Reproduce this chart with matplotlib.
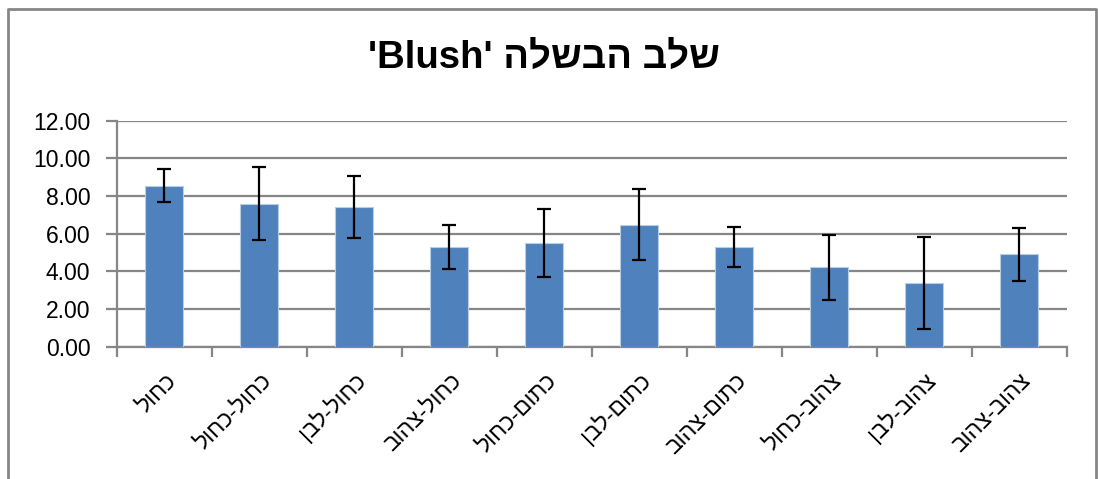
import matplotlib
matplotlib.use("Agg")
import matplotlib.pyplot as plt
from matplotlib.lines import Line2D

# data
categories = ['כחול', 'כחול-כחול', 'כחול-לבן', 'כחול-צהוב', 'כתום-כחול',
              'כתום-לבן', 'כתום-צהוב', 'צהוב-כחול', 'צהוב-לבן', 'צהוב-צהוב']
means = [8.55, 7.60, 7.42, 5.30, 5.50, 6.47, 5.30, 4.22, 3.38, 4.90]
errors = [0.86, 1.93, 1.63, 1.16, 1.82, 1.89, 1.08, 1.72, 2.42, 1.40]
yticks = [0, 2, 4, 6, 8, 10, 12]
title_he = 'שלב הבשלה'
title_en = "'Blush'"

FONTS = ['Liberation Sans', 'DejaVu Sans']
GRID = '#868686'
BAR = '#4F81BD'


def visual(s):
    # matplotlib has no bidi support, so lay Hebrew out in visual order
    return s[::-1]


def main():
    plt.rcParams['font.family'] = FONTS
    fig = plt.figure(figsize=(10.98, 4.79), dpi=100)
    ax = fig.add_axes([0.1063, 0.2762, 0.8652, 0.4718])

    x = list(range(len(categories)))
    ax.bar(x, means, width=0.4, color=BAR, edgecolor='#B9CDE5', linewidth=0.8, zorder=3)
    ax.errorbar(x, means, yerr=errors, fmt='none', ecolor='black',
                elinewidth=1.6, capsize=5, capthick=1.6, zorder=4)

    ax.set_xlim(-0.5, len(categories) - 0.5)
    ax.set_ylim(0, 12)
    ax.set_yticks(yticks)
    ax.set_yticklabels([f'{v:.2f}' for v in yticks], fontsize=16.5)
    ax.yaxis.grid(True, color=GRID, linewidth=1.6, zorder=0)
    ax.tick_params(axis='y', length=8, width=1.6, color=GRID, pad=11)

    # category ticks sit between bars, labels under bar centres
    ax.set_xticks([i - 0.5 for i in range(len(categories) + 1)])
    ax.set_xticklabels([])
    ax.set_xticks(x, minor=True)
    ax.set_xticklabels([visual(c) for c in categories], minor=True,
                       rotation=45, ha='right', va='top', rotation_mode='anchor',
                       fontsize=16.5)
    ax.tick_params(axis='x', which='major', length=7, width=1.6, color=GRID)
    ax.tick_params(axis='x', which='minor', length=0, pad=16)

    for side in ['top', 'right']:
        ax.spines[side].set_visible(False)
    for side in ['left', 'bottom']:
        ax.spines[side].set_color(GRID)
        ax.spines[side].set_linewidth(1.6)

    fig.text(0.495, 0.879, title_en + ' ' + visual(title_he), ha='center', va='center',
             fontsize=27.5, fontweight='bold')

    # chart area border (bottom edge is cut off in the reference)
    l, r, t = 7.5 / 1098, 1095.5 / 1098, 1 - 8.5 / 479
    fig.add_artist(Line2D([l, l, r, r], [0, t, t, 0], transform=fig.transFigure,
                          color=GRID, linewidth=2))

    fig.savefig('out.png', dpi=100)


if __name__ == '__main__':
    main()
